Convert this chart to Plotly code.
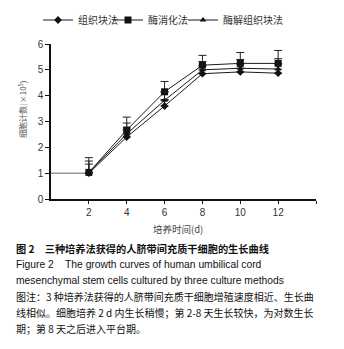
import plotly.graph_objects as go

days = [2, 4, 6, 8, 10, 12]
tissue = [1.00, 2.40, 3.60, 4.85, 4.92, 4.87]
tissue_err = [0.35, 0.35, 0.25, 0.30, 0.30, 0.35]
enzyme = [1.03, 2.67, 4.15, 5.18, 5.25, 5.25]
enzyme_err = [0.57, 0.50, 0.40, 0.38, 0.42, 0.50]
combo = [1.02, 2.52, 3.82, 5.00, 5.06, 5.03]
combo_err = [0.45, 0.42, 0.32, 0.32, 0.34, 0.40]
seed_x = [0, 2]
seed_y = [1, 1]

names = ["组织块法", "酶消化法", "酶解组织块法"]
xtick_vals = [2, 4, 6, 8, 10, 12, 14]
xtick_text = ["2", "4", "6", "8", "10", "12", ""]
ytick_vals = [0, 1, 2, 3, 4, 5, 6]
x_title = "培养时间(d)"
y_title = "细胞计数(×10<sup>5</sup>)"

CJK = "Noto Sans CJK SC"
LAT = "Liberation Sans, Noto Sans CJK SC"
OFF = 8  # page body margin offset

fig = go.Figure()
fig.add_trace(go.Scatter(x=seed_x, y=seed_y, mode="lines",
                         line=dict(color="#666666", width=1), showlegend=False,
                         hoverinfo="skip"))
series = [
    (names[0], tissue, tissue_err, "diamond", 6, "legend"),
    (names[1], enzyme, enzyme_err, "square", 7, "legend2"),
    (names[2], combo, combo_err, "triangle-up", 6, "legend3"),
]
for name, ys, err, sym, sz, lg in series:
    fig.add_trace(go.Scatter(
        x=days, y=ys, name=name, mode="lines+markers", legend=lg,
        line=dict(color="#1a1a1a", width=1),
        marker=dict(symbol=sym, size=sz, color="#111111"),
        error_y=dict(type="data", symmetric=False, array=err,
                     arrayminus=[0] * len(err), color="#222222",
                     thickness=1, width=4),
    ))

def leg(screen_x):
    return dict(orientation="h", xref="container", yref="container",
                x=(screen_x - OFF) / 344, y=1 - (20 - OFF) / 349,
                xanchor="left", yanchor="middle",
                font=dict(family=CJK, size=10, color="#333333"),
                itemwidth=30, bgcolor="rgba(0,0,0,0)")

fig.update_layout(
    width=344, height=349,
    margin=dict(l=51 - OFF, r=28 + OFF, t=44 - OFF, b=150 + OFF, autoexpand=False),
    paper_bgcolor="white", plot_bgcolor="white",
    font=dict(family=LAT, size=10, color="#222222"),
    legend=leg(38), legend2=leg(108), legend3=leg(183),
    xaxis=dict(range=[0, 14], tickvals=xtick_vals, ticktext=xtick_text,
               showline=True, linecolor="#111111", linewidth=1.5,
               ticks="outside", ticklen=3, tickcolor="#111111",
               showgrid=False, zeroline=False, automargin=False,
               tickfont=dict(family=LAT, size=10, color="#333333")),
    yaxis=dict(range=[0, 6], tickvals=ytick_vals,
               showline=True, linecolor="#111111", linewidth=1.5,
               ticks="outside", ticklen=4, tickcolor="#111111",
               showgrid=False, zeroline=False, automargin=False,
               tickfont=dict(family=LAT, size=10, color="#333333")),
)

# axis titles
fig.add_annotation(text=x_title, xref="paper", yref="paper",
                   x=(178 - 51) / 265, y=(199 - 229) / 155,
                   xanchor="center", yanchor="middle", showarrow=False,
                   font=dict(family=CJK, size=9.5, color="#444444"))
fig.add_annotation(text=y_title, xref="paper", yref="paper", textangle=-90,
                   x=(22 - 51) / 265, y=(199 - 110) / 155,
                   xanchor="center", yanchor="middle", showarrow=False,
                   font=dict(family=CJK, size=8, color="#555555"))

caption = [
    ("<b>图 2　三种培养法获得的人脐带间充质干细胞的生长曲线</b>", CJK, 10.2, 248),
    ("Figure 2    The growth curves of human umbilical cord", LAT, 10.3, 264),
    ("mesenchymal stem cells cultured by three culture methods", LAT, 10.3, 280),
    ("图注：3 种培养法获得的人脐带间充质干细胞增殖速度相近、生长曲", CJK, 10, 296),
    ("线相似。细胞培养 2 d 内生长稍慢；第 2-8 天生长较快，为对数生长", CJK, 10, 312),
    ("期；第 8 天之后进入平台期。", CJK, 10, 328),
]
for text, fam, sz, py in caption:
    fig.add_annotation(text=text, xref="paper", yref="paper",
                       x=(14 - 51) / 265, y=(199 - py) / 155,
                       xanchor="left", yanchor="middle", showarrow=False,
                       font=dict(family=fam, size=sz, color="#111111"))

fig.write_html("out.html")
